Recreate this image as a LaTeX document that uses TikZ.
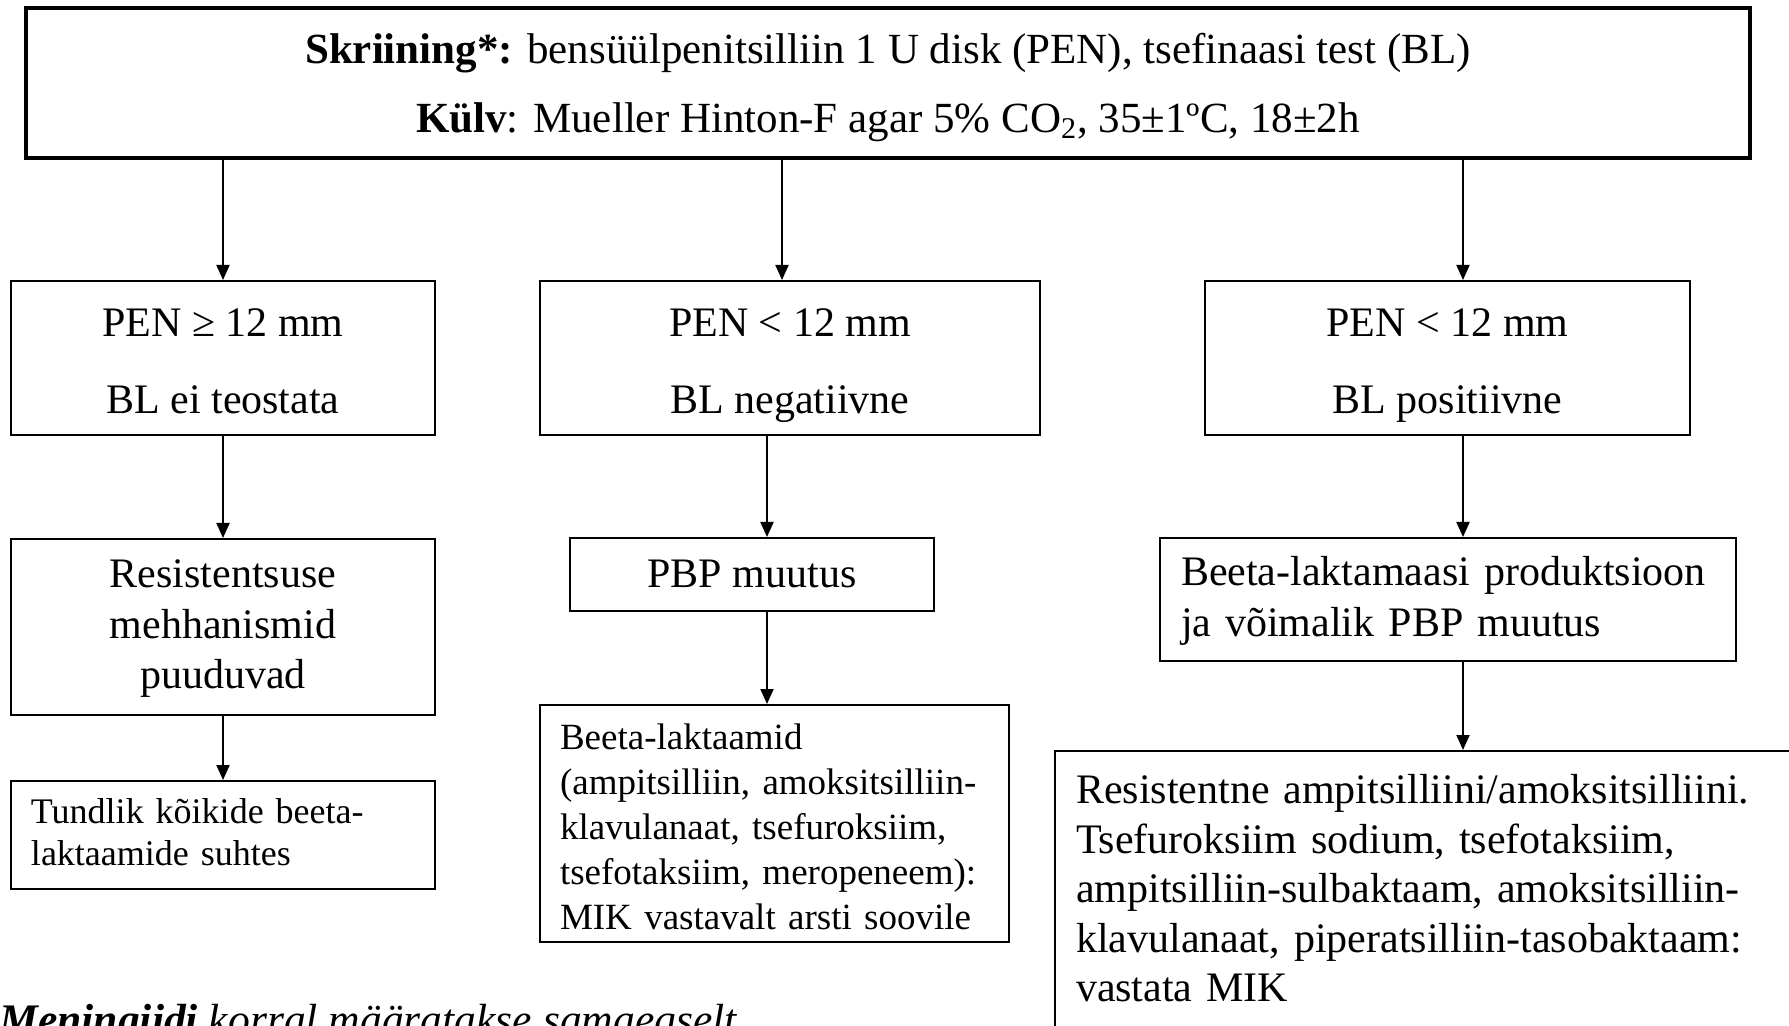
\documentclass[tikz,border=0pt]{standalone}
\usepackage{fontspec}
\setmainfont{Liberation Serif}
\usetikzlibrary{arrows.meta}
\newcommand\lstr{\rule[-0.28\baselineskip]{0pt}{\baselineskip}}
\begin{document}
\begin{tikzpicture}[x=0.5pt,y=-0.5pt,
  box/.style={draw, line width=1pt, inner sep=0pt, align=center},
  lbox/.style={draw, line width=1pt, inner ysep=0pt, inner xsep=10.5pt, align=left},
  arr/.style={line width=1pt, -{Triangle[length=7.5pt,width=6.5pt]}},
  fbig/.style={font=\fontsize{21}{38.5}\selectfont}
]
\useasboundingbox (0,0) rectangle (1789,1026);
\clip (0,0) rectangle (1789,1026);

% top box
\node[box, line width=1.6pt, minimum width=862pt, minimum height=75pt,
  font=\fontsize{21.5}{34.5}\selectfont] (top) at (888,83)
  {\textbf{Skriining*:} bensüülpenitsilliin 1 U disk (PEN), tsefinaasi test (BL)\lstr\\
   \textbf{Külv}: Mueller Hinton-F agar 5\% CO\textsubscript{2}, 35±1ºC, 18±2h\lstr};

% row 2
\node[box, fbig, minimum width=212pt, minimum height=75pt] (a2) at (223,358)
  {PEN ≥ 12 mm\lstr\\BL ei teostata\lstr};
\node[box, fbig, minimum width=250pt, minimum height=75pt] (b2) at (790,358)
  {PEN < 12 mm\lstr\\BL negatiivne\lstr};
\node[box, fbig, minimum width=242.5pt, minimum height=75pt] (c2) at (1447.5,358)
  {PEN < 12 mm\lstr\\BL positiivne\lstr};

% row 3
\node[box, font=\fontsize{21}{25.25}\selectfont, minimum width=212pt, minimum height=88pt] (a3) at (223,627)
  {Resistentsuse\lstr\\mehhanismid\lstr\\puuduvad\lstr};
\node[box, font=\fontsize{21}{30}\selectfont, minimum width=182pt, minimum height=36.5pt] (b3) at (752,574.5)
  {PBP muutus\lstr};
\node[lbox, font=\fontsize{21}{25.5}\selectfont, text width=267pt, minimum height=61.5pt] (c3) at (1448,599.5)
  {\mbox{Beeta-laktamaasi produktsioon}\lstr\\ja võimalik PBP muutus\lstr};

% row 4
\node[lbox, inner xsep=10pt, font=\fontsize{18}{21}\selectfont, text width=192pt, minimum height=54pt] (a4) at (223,835)
  {Tundlik kõikide beeta-\lstr\\laktaamide suhtes\lstr};
\node[lbox, inner xsep=10pt, font=\fontsize{18.5}{22.5}\selectfont, text width=214.5pt, minimum height=118.5pt] (b4) at (774.5,823.5)
  {\rule{0pt}{22.2pt}Beeta-laktaamid\lstr\\(ampitsilliin, amoksitsilliin-\lstr\\klavulanaat, tsefuroksiim,\lstr\\tsefotaksiim, meropeneem):\lstr\\MIK vastavalt arsti soovile\lstr};
\node[lbox, inner ysep=8.7pt, font=\fontsize{21}{24.7}\selectfont, text width=380pt, anchor=north west] (c4) at (1054,750)
  {Resistentne ampitsilliini/amoksitsilliini.\lstr\\Tsefuroksiim sodium, tsefotaksiim,\lstr\\ampitsilliin-sulbaktaam, amoksitsilliin-\lstr\\klavulanaat, piperatsilliin-tasobaktaam:\lstr\\vastata MIK\lstr\rule[-60pt]{0pt}{0pt}};

% footnote
\node[inner sep=0pt, anchor=base west, font=\fontsize{21.8}{25}\selectfont] (foot) at (-1,1034)
  {\textbf{\textit{Meningiidi}} \textit{korral määratakse samaegselt}};

% connector x positions
\coordinate (xa) at (223,0);
\coordinate (xbt) at (782,0);
\coordinate (xb) at (767,0);
\coordinate (xc) at (1463,0);

\draw[arr] (xa |- top.south) -- (xa |- a2.north);
\draw[arr] (xbt |- top.south) -- (xbt |- b2.north);
\draw[arr] (xc |- top.south) -- (xc |- c2.north);

\draw[arr] (xa |- a2.south) -- (xa |- a3.north);
\draw[arr] (xb |- b2.south) -- (xb |- b3.north);
\draw[arr] (xc |- c2.south) -- (xc |- c3.north);

\draw[arr] (xa |- a3.south) -- (xa |- a4.north);
\draw[arr] (xb |- b3.south) -- (xb |- b4.north);
\draw[arr] (xc |- c3.south) -- (xc |- c4.north);
\end{tikzpicture}
\end{document}
